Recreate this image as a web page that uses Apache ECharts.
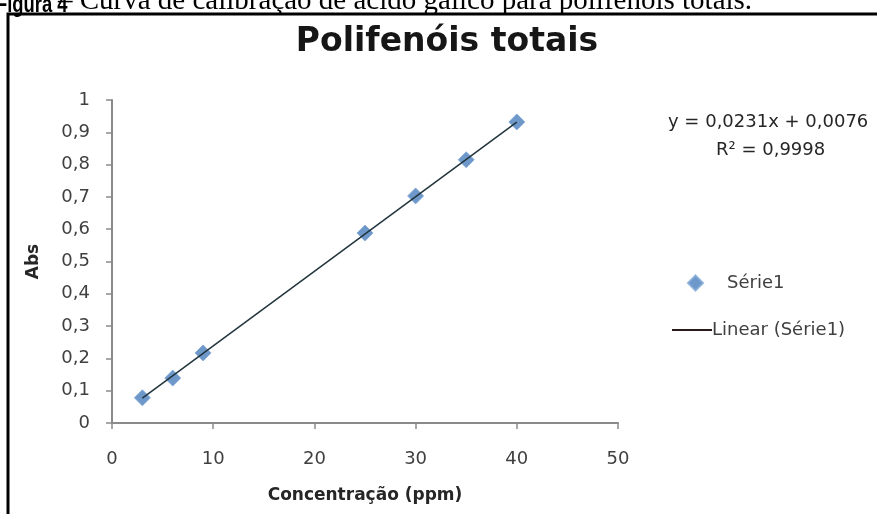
<!DOCTYPE html>
<html>
<head>
<meta charset="utf-8">
<script src="https://cdn.jsdelivr.net/npm/echarts@6/dist/echarts.min.js"></script>
<style>
  html, body { margin: 0; padding: 0; background: #fff; }
  #chart { width: 877px; height: 514px; }
</style>
</head>
<body>
<div id="chart"></div>
<script>
// concentração (ppm) e absorbância
var concentracao = [3, 6, 9, 25, 30, 35, 40];
var absorbancia = [0.078, 0.139, 0.217, 0.588, 0.703, 0.815, 0.932];
// linha de tendência do Excel: y = 0,0231x + 0,0076
var coef = [0.0231, 0.0076];

var pontos = [];
for (var i = 0; i < concentracao.length; i++) {
  pontos.push([concentracao[i], absorbancia[i]]);
}
var x0 = concentracao[0], x1 = concentracao[concentracao.length - 1];
var tendencia = [[x0, coef[0] * x0 + coef[1]], [x1, coef[0] * x1 + coef[1]]];

var fonte = '"DejaVu Sans", sans-serif';
var virgula = function (v) { return String(+v.toFixed(1)).replace('.', ','); };

var myChart = echarts.init(document.getElementById('chart'));
var option = {
  backgroundColor: '#fff',
  animation: false,
  title: {
    text: 'Polifenóis totais',
    left: 442, top: 21, textAlign: 'center',
    textStyle: { fontFamily: fonte, fontSize: 33, fontWeight: 'bold', color: '#161616' }
  },
  grid: { left: 112, right: 259, top: 100, bottom: 91 },
  xAxis: {
    type: 'value', min: 0, max: 50, interval: 10,
    name: 'Concentração (ppm)', nameLocation: 'middle', nameGap: 64,
    nameTextStyle: { fontFamily: fonte, fontSize: 17, fontWeight: 'bold', color: '#262626' },
    axisLine: { lineStyle: { color: '#8a8a8a', width: 2 } },
    axisTick: { show: true, length: 6, lineStyle: { color: '#8a8a8a', width: 1.5 } },
    axisLabel: { fontFamily: fonte, fontSize: 18, color: '#404040', margin: 27 },
    splitLine: { show: false }
  },
  yAxis: {
    type: 'value', min: 0, max: 1, interval: 0.1,
    name: 'Abs', nameLocation: 'middle', nameGap: 70, nameRotate: 90,
    nameTextStyle: { fontFamily: fonte, fontSize: 17, fontWeight: 'bold', color: '#262626' },
    axisLine: { show: true, lineStyle: { color: '#8a8a8a', width: 2 } },
    axisTick: { show: true, length: 6, lineStyle: { color: '#8a8a8a', width: 1.5 } },
    axisLabel: { fontFamily: fonte, fontSize: 18, color: '#404040', margin: 22, formatter: virgula },
    splitLine: { show: false }
  },
  legend: [{
    data: ['Série1'], left: 687, top: 274, padding: 0, itemWidth: 15, itemHeight: 15,
    textStyle: { fontFamily: fonte, fontSize: 18, color: '#404040', padding: [0, 0, 0, 19] }
  }, {
    data: [{ name: 'Linear (Série1)', icon: 'rect' }], left: 672, top: 321, padding: 0,
    itemWidth: 40, itemHeight: 2,
    itemStyle: { color: '#2a1a1a' },
    textStyle: { fontFamily: fonte, fontSize: 18, color: '#404040', padding: [0, 0, 0, -5] }
  }],
  series: [{
    name: 'Série1',
    type: 'scatter',
    data: pontos,
    symbol: 'diamond',
    symbolSize: 16,
    itemStyle: { color: '#4a7ebb', borderColor: '#7fa8d6', borderWidth: 1 },
    z: 2
  }, {
    name: 'Linear (Série1)',
    type: 'line',
    data: tendencia,
    showSymbol: false,
    symbol: 'none',
    lineStyle: { color: '#22343c', width: 1.5 },
    itemStyle: { color: '#2a1a1a' },
    z: 3
  }],
  graphic: [{
    type: 'rect',
    shape: { x: 8, y: 14, width: 900, height: 540 },
    style: { fill: 'none', stroke: '#000', lineWidth: 3 }
  }, {
    type: 'text', x: -4, y: -6, scaleX: 0.8,
    style: {
      text: 'Figura 4',
      font: 'bold 23px "Liberation Sans", Arial, sans-serif', fill: '#000'
    }
  }, {
    type: 'text', left: 58, top: -13,
    style: {
      text: '– Curva de calibração de ácido gálico para polifenóis totais.',
      font: '29px "Liberation Serif", serif', fill: '#000'
    }
  }, {
    type: 'text', left: 668, top: 113,
    style: { text: 'y = 0,0231x + 0,0076', font: '18px ' + fonte, fill: '#262626' }
  }, {
    type: 'text', left: 716, top: 141,
    style: { text: 'R² = 0,9998', font: '18px ' + fonte, fill: '#262626' }
  }]
};
myChart.setOption(option);
</script>
</body>
</html>
